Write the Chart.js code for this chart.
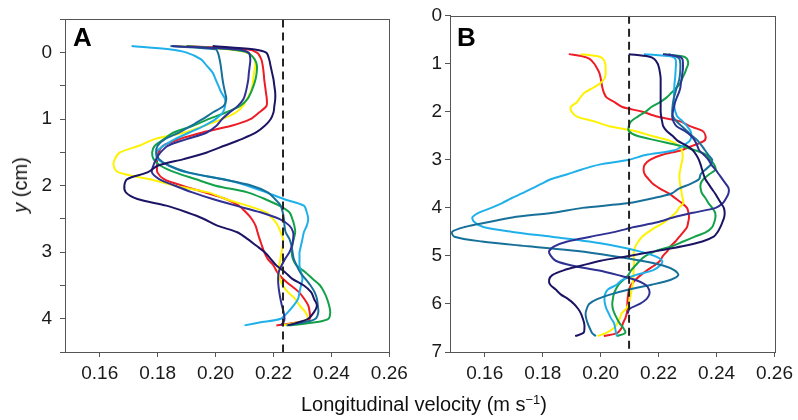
<!DOCTYPE html>
<html><head><meta charset="utf-8">
<script src="https://cdn.jsdelivr.net/npm/chart.js@4/dist/chart.umd.min.js"></script>
<style>
html,body{margin:0;padding:0;background:#fff;}
body{width:798px;height:420px;overflow:hidden;position:relative;font-family:"Liberation Sans",Arial,sans-serif;color:#111;}
#wa{position:absolute;left:0;top:0;width:430px;height:420px;}
#wb{position:absolute;left:400px;top:0;width:398px;height:420px;}
.panel{position:absolute;font-weight:bold;font-size:26px;line-height:1;color:#000;z-index:5;}
#xt{position:absolute;left:424px;top:394px;transform:translateX(-50%);white-space:nowrap;font-size:20px;line-height:1;z-index:5;}
#xt sup{font-size:13px;vertical-align:7px;line-height:0;}
#yt{position:absolute;left:20px;top:185px;transform:translate(-50%,-50%) rotate(-90deg);white-space:nowrap;font-size:20px;line-height:1;z-index:5;}
</style></head>
<body>
<div id="wa"><canvas id="ca" width="430" height="420"></canvas></div>
<div id="wb"><canvas id="cb" width="398" height="420"></canvas></div>
<div class="panel" style="left:73px;top:24px;">A</div>
<div class="panel" style="left:457px;top:24px;">B</div>
<div id="yt"><i>y</i> (cm)</div>
<div id="xt">Longitudinal velocity (m s<sup>−1</sup>)</div>
<script>
// ---------- Panel A data ----------
const depthA = [-0.1,-0.05,0,0.1,0.2,0.3,0.4,0.5,0.6,0.7,0.8,0.9,1.0,1.1,1.2,1.3,1.4,1.5,1.6,1.7,1.8,1.9,2.0,2.1,2.2,2.3,2.4,2.5,2.6,2.7,2.8,2.9,3.0,3.1,3.2,3.3,3.4,3.5,3.6,3.7,3.8,3.9,4.0,4.05,4.1];
const navyA   = [0.199,0.213,0.2175,0.2185,0.219,0.2195,0.220,0.2203,0.2206,0.2206,0.2203,0.220,0.219,0.217,0.214,0.209,0.203,0.197,0.189,0.180,0.1765,0.1695,0.1685,0.169,0.173,0.183,0.190,0.196,0.2006,0.2075,0.211,0.214,0.217,0.219,0.221,0.224,0.2265,0.2305,0.233,0.234,0.235,0.234,0.232,0.229,0.225];
const indigoA = [0.185,0.207,0.2114,0.212,0.2118,0.2115,0.2113,0.2109,0.2104,0.2096,0.2077,0.2048,0.2022,0.2003,0.197,0.190,0.1835,0.181,0.1795,0.1785,0.178,0.1805,0.186,0.192,0.199,0.207,0.2155,0.222,0.2255,0.2268,0.2268,0.2264,0.2255,0.224,0.2228,0.2218,0.2216,0.2217,0.222,0.2224,0.2229,0.2235,0.2238,0.2235,0.2225];
const tealA   = [0.1844,0.200,0.2008,0.2014,0.2018,0.2021,0.2024,0.2028,0.2033,0.2037,0.2028,0.199,0.1955,0.1915,0.1875,0.1825,0.180,0.1795,0.1805,0.184,0.1905,0.202,0.2125,0.218,0.2205,0.2225,0.2232,0.2236,0.2238,0.2242,0.2255,0.2262,0.2266,0.227,0.228,0.2292,0.231,0.2328,0.2342,0.235,0.2353,0.2355,0.2345,0.231,0.2245];
const skyA    = [0.171,0.184,0.190,0.195,0.197,0.199,0.200,0.201,0.202,0.2033,0.2033,0.2025,0.200,0.196,0.191,0.186,0.182,0.1795,0.180,0.184,0.190,0.2025,0.211,0.2175,0.2235,0.2305,0.2315,0.232,0.2315,0.2305,0.230,0.2295,0.229,0.229,0.229,0.2295,0.230,0.2295,0.229,0.2285,0.227,0.225,0.2225,0.216,0.210];
const greenA  = [0.190,0.205,0.211,0.2135,0.2143,0.2142,0.2138,0.2131,0.2122,0.211,0.2085,0.2035,0.1975,0.1922,0.1855,0.1822,0.179,0.1781,0.1786,0.181,0.186,0.193,0.200,0.211,0.217,0.222,0.2255,0.2265,0.2272,0.2275,0.227,0.2265,0.2263,0.2267,0.228,0.231,0.2335,0.2361,0.2375,0.2385,0.2392,0.2396,0.239,0.235,0.2255];
const yellowA = [0.1867,0.204,0.2108,0.2135,0.2137,0.2133,0.213,0.2127,0.212,0.2108,0.2095,0.207,0.2022,0.196,0.1893,0.179,0.1735,0.167,0.1652,0.1648,0.1665,0.177,0.186,0.1975,0.2035,0.211,0.2175,0.2198,0.2215,0.2225,0.2233,0.2232,0.2228,0.2224,0.222,0.2218,0.2222,0.2232,0.225,0.2275,0.229,0.231,0.2318,0.229,0.223];
const redA    = [0.190,0.2108,0.2143,0.2158,0.2163,0.2166,0.2168,0.2171,0.2174,0.2177,0.2176,0.215,0.212,0.2055,0.1955,0.1875,0.1818,0.1803,0.1798,0.1798,0.1799,0.1822,0.1885,0.1962,0.2035,0.208,0.2105,0.2125,0.2138,0.2145,0.2152,0.216,0.2168,0.218,0.220,0.2213,0.2232,0.226,0.2288,0.2306,0.232,0.2325,0.2325,0.229,0.221];
const refVelA = 0.2233;

// ---------- Panel B data ----------
const depthB = [0.8,0.85,0.9,1.0,1.1,1.2,1.3,1.4,1.5,1.6,1.7,1.8,1.9,2.0,2.1,2.2,2.3,2.4,2.5,2.6,2.7,2.8,2.9,3.0,3.1,3.2,3.3,3.4,3.5,3.6,3.7,3.8,3.9,4.0,4.1,4.2,4.3,4.4,4.5,4.6,4.7,4.8,4.9,5.0,5.1,5.2,5.3,5.4,5.5,5.6,5.7,5.8,5.9,6.0,6.1,6.2,6.3,6.4,6.5,6.6,6.67];
const navyB   = [0.2097,0.2165,0.2185,0.2197,0.2202,0.2205,0.2207,0.2207,0.2207,0.2207,0.2207,0.2207,0.2207,0.2207,0.2209,0.2212,0.2216,0.2228,0.2248,0.2265,0.2295,0.2318,0.233,0.2339,0.2345,0.235,0.2355,0.2361,0.2372,0.2383,0.2395,0.2405,0.2415,0.2425,0.2428,0.2426,0.242,0.2413,0.2404,0.239,0.2351,0.2282,0.219,0.2098,0.2,0.1935,0.1872,0.1833,0.1822,0.1826,0.1845,0.1862,0.1888,0.1908,0.1922,0.1932,0.1938,0.1943,0.1944,0.1941,0.1912];
const indigoB = [0.2215,0.227,0.2282,0.2284,0.2284,0.2282,0.228,0.2277,0.2275,0.227,0.2263,0.2257,0.2253,0.2249,0.2247,0.2251,0.2262,0.229,0.2312,0.2325,0.2333,0.234,0.2357,0.2372,0.2382,0.2396,0.2408,0.242,0.2432,0.2442,0.2441,0.2433,0.2422,0.2397,0.232,0.225,0.2195,0.2115,0.205,0.1965,0.1885,0.184,0.1822,0.1828,0.1845,0.19,0.199,0.206,0.2121,0.2155,0.2167,0.2168,0.2158,0.2135,0.21,0.2093,null,null,null,null,null];
const tealB   = [0.2235,0.226,0.2272,0.2275,0.2275,0.2274,0.2272,0.2268,0.2262,0.2258,0.2253,0.225,0.2248,0.2247,0.225,0.2262,0.228,0.2298,0.2315,0.2335,0.2348,0.236,0.2372,0.2385,0.238,0.2362,0.2345,0.234,0.231,0.227,0.2245,0.218,0.2098,0.1937,0.1835,0.1695,0.161,0.153,0.1487,0.1495,0.159,0.175,0.192,0.204,0.214,0.2215,0.2255,0.2268,0.224,0.2175,0.2098,0.2035,0.1988,0.196,0.1952,0.1948,0.195,0.1955,0.1962,0.197,0.1983];
const skyB    = [0.2149,0.2245,0.2258,0.226,0.2259,0.2258,0.2257,0.2255,0.2254,0.2253,0.2253,0.2253,0.2254,0.2258,0.2265,0.2283,0.2298,0.231,0.2313,0.2308,0.2285,0.2255,0.2155,0.2098,0.1995,0.1935,0.1885,0.183,0.1795,0.1762,0.1728,0.1692,0.166,0.1622,0.158,0.1557,0.1565,0.1595,0.1695,0.183,0.196,0.2055,0.213,0.2185,0.2212,0.2205,0.218,0.212,0.2075,0.2055,0.2025,0.2015,0.2013,0.2015,0.202,0.2028,0.2036,0.2046,0.205,0.2053,0.2056];
const greenB  = [0.2215,0.2285,0.2298,0.2302,0.2296,0.229,0.2282,0.2275,0.2262,0.2245,0.2228,0.2205,0.2175,0.2155,0.2128,0.2105,0.2097,0.2097,0.2125,0.2195,0.227,0.2325,0.2365,0.2378,0.2392,0.2396,0.2375,0.2355,0.2345,0.2345,0.235,0.2362,0.2372,0.2385,0.2395,0.2396,0.2392,0.2385,0.2365,0.2325,0.2285,0.2245,0.219,0.2155,0.2135,0.212,0.2105,0.2095,0.2078,0.2062,0.2052,0.2045,0.2042,0.204,0.2042,0.2048,0.2056,0.2065,0.2078,0.2085,0.2055];
const yellowB = [0.1931,0.1994,0.2008,0.2016,0.2017,0.2017,0.2014,0.2,0.1974,0.1945,0.193,0.1918,0.1897,0.19,0.1918,0.1978,0.203,0.2118,0.2175,0.2238,0.2268,0.228,0.2283,0.2282,0.2278,0.2275,0.2272,0.2272,0.2274,0.2277,0.228,0.2283,0.2285,0.227,0.226,0.224,0.222,0.219,0.2165,0.2143,0.213,0.212,0.2115,0.2115,0.2115,0.2115,0.2114,0.2113,0.2112,0.211,0.2107,0.2104,0.2101,0.2097,0.2088,0.2072,0.2066,0.2058,0.2046,0.202,0.1989];
const redB    = [0.189,0.194,0.1962,0.1978,0.1988,0.1996,0.2,0.2003,0.2006,0.2011,0.202,0.2048,0.2075,0.2144,0.2195,0.2275,0.2308,0.2352,0.2362,0.2358,0.232,0.2278,0.221,0.217,0.2152,0.2148,0.2152,0.2165,0.218,0.2205,0.2235,0.2258,0.228,0.2298,0.2303,0.2305,0.2302,0.2298,0.2286,0.2272,0.2258,0.2241,0.223,0.2215,0.2205,0.2185,0.216,0.2138,0.212,0.2105,0.2098,0.2095,0.2093,0.2092,0.2092,0.209,0.2085,0.2077,0.2072,0.2058,0.2011];
const refVelB = 0.2098;

// ---------- Axes ----------
const xTicks = [0.16,0.18,0.20,0.22,0.24,0.26];
const yTicksA = [-0.5,0,0.5,1,1.5,2,2.5,3,3.5,4,4.5];
const yTicksB = [0,1,2,3,4,5,6,7];

const COLORS = {navy:'#1b1464', indigo:'#2e3192', teal:'#17709a', sky:'#1fb0ea', green:'#13a14a', yellow:'#fff200', red:'#ee1c25'};
const FONT = "'Liberation Sans', Arial, sans-serif";

function series(depth, vals, color){
  const pts = [];
  depth.forEach((d,i)=>{ if(vals[i]!==null && vals[i]!==undefined) pts.push({x:vals[i], y:d}); });
  return {data:pts, showLine:true, borderColor:color, backgroundColor:color, borderWidth:2, pointRadius:0, tension:0.3, fill:false};
}
function refLine(v, y0, y1){
  return {data:[{x:v,y:y0},{x:v,y:y1}], showLine:true, borderColor:'#222', borderWidth:2, borderDash:[8,5], pointRadius:0, fill:false};
}
const frame = {id:'frame', afterDraw(chart){
  const {ctx, chartArea:a} = chart;
  ctx.save(); ctx.strokeStyle='#555'; ctx.lineWidth=1;
  ctx.strokeRect(Math.round(a.left)+0.5, Math.round(a.top)+0.5, Math.round(a.right-a.left), Math.round(a.bottom-a.top));
  ctx.restore();
}};

function makeChart(id, depth, sets, ref, yMin, yMax, yTicks, yWidth, padRight, labelPad){
  const ds = [refLine(ref, yMin, yMax)];
  sets.forEach(s=>ds.push(series(depth, s[0], s[1])));
  return new Chart(document.getElementById(id), {
    type:'scatter',
    data:{datasets:ds},
    options:{
      responsive:false, animation:false, devicePixelRatio:1,
      layout:{padding:{left:0, right:padRight, top:15.7, bottom:0}},
      plugins:{legend:{display:false}, tooltip:{enabled:false}},
      scales:{
        x:{type:'linear', min:0.148, max:0.26,
          afterBuildTicks:s=>{s.ticks = xTicks.map(v=>({value:v}));},
          afterFit:s=>{s.height = 68;},
          ticks:{callback:v=>Number(v).toFixed(2), font:{family:FONT, size:19}, color:'#1a1a1a', padding:5, maxRotation:0, autoSkip:false},
          grid:{drawOnChartArea:false, drawTicks:true, tickLength:5, color:'#555'},
          border:{color:'#555'}},
        y:{type:'linear', reverse:true, min:yMin, max:yMax,
          afterBuildTicks:s=>{s.ticks = yTicks.map(v=>({value:v}));},
          afterFit:s=>{s.width = yWidth;},
          ticks:{callback:v=> Math.abs(v-Math.round(v))<1e-9 ? String(Math.round(v)) : '', font:{family:FONT, size:19}, color:'#1a1a1a', padding:labelPad, autoSkip:false},
          grid:{drawOnChartArea:false, drawTicks:true, tickLength:5, color:'#555'},
          border:{color:'#555'}}
      }
    },
    plugins:[frame]
  });
}

makeChart('ca', depthA, [
  [navyA,COLORS.navy],[indigoA,COLORS.indigo],[tealA,COLORS.teal],[skyA,COLORS.sky],[greenA,COLORS.green],[yellowA,COLORS.yellow],[redA,COLORS.red]
], refVelA, -0.5, 4.5, yTicksA, 65, 430-389.3, 8);

makeChart('cb', depthB, [
  [navyB,COLORS.navy],[indigoB,COLORS.indigo],[tealB,COLORS.teal],[skyB,COLORS.sky],[greenB,COLORS.green],[yellowB,COLORS.yellow],[redB,COLORS.red]
], refVelB, 0, 7, yTicksB, 50, 398-375.7, 3);
</script>
</body></html>
